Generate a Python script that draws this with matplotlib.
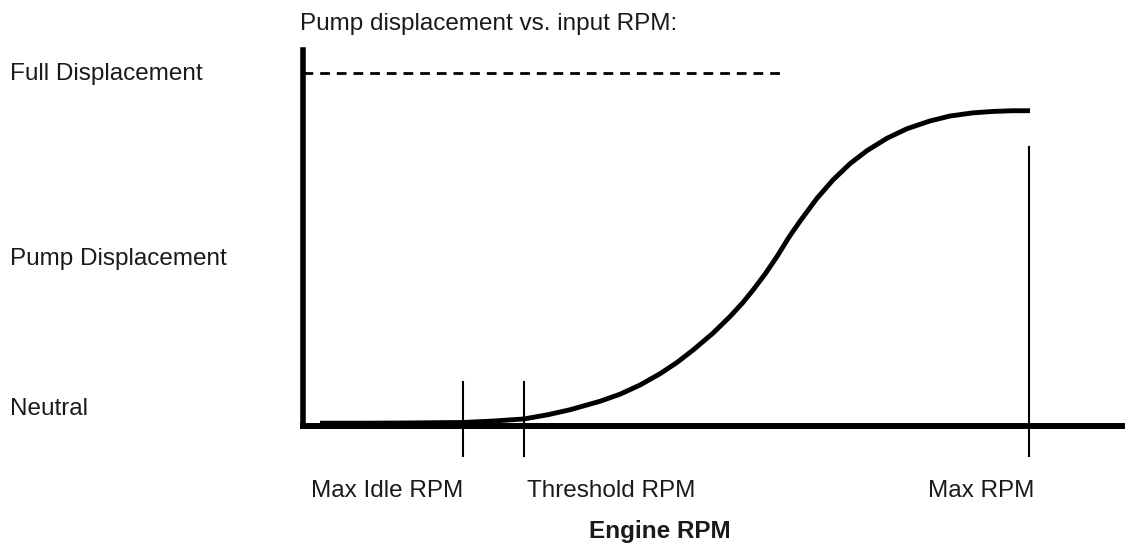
import matplotlib
matplotlib.use('Agg')
import matplotlib.pyplot as plt

# curve (x = RPM units from the axis, y = % displacement)
rpm = [17, 60, 100, 140, 160, 190, 221, 245, 267, 297, 317, 337, 357, 374,
       390, 410, 427, 440, 450, 462, 474, 486, 497, 514, 530, 547, 564, 584,
       604, 627, 647, 670, 690, 710, 727]
disp = [0.8, 0.8, 0.85, 0.95, 1.0, 1.4, 2.0, 3.2, 4.6, 7.0, 9.0, 11.6, 14.8, 18.0,
        21.5, 26.3, 31.0, 35.0, 38.5, 43.0, 48.0, 53.5, 58.0, 64.5, 69.7, 74.3, 78.0, 81.5,
        84.2, 86.4, 87.8, 88.7, 89.1, 89.3, 89.3]

max_idle_rpm = 160
threshold_rpm = 221
max_rpm = 726
full_disp = 100
full_line_end = 480

W, H = 1125, 543
fig = plt.figure(figsize=(W / 100, H / 100), dpi=100)
plt.rcParams['font.family'] = ['Liberation Sans', 'DejaVu Sans']

# axes: left spine at px 303, bottom spine at px 426, top at px 50
ax = fig.add_axes([303 / W, (H - 426) / H, (W - 303) / W, (426 - 50) / H])
ax.set_xlim(0, W - 303)
ax.set_ylim(0, 106.5)
for s in ['top', 'right']:
    ax.spines[s].set_visible(False)
ax.spines['left'].set_linewidth(4)
ax.spines['bottom'].set_linewidth(4.3)
ax.set_xticks([])
ax.set_yticks([])
ax.patch.set_alpha(0)

ax.plot(rpm, disp, color='black', lw=3.5, solid_capstyle='butt',
        solid_joinstyle='round', clip_on=False)
ax.plot([0, full_line_end], [full_disp, full_disp], color='black', lw=2,
        dashes=(3.5, 2.5), clip_on=False)

for x in [max_idle_rpm, threshold_rpm]:
    ax.plot([x, x], [-8.5, 12.5], color='black', lw=1.5, clip_on=False)
ax.plot([max_rpm, max_rpm], [-8.5, 79], color='black', lw=1.5, clip_on=False)

tc = '#1a1a1a'
fs = 17.5


def ftext(px, py, s, **kw):
    kw.setdefault('fontsize', fs)
    kw.setdefault('color', tc)
    fig.text(px / W, 1 - py / H, s, va='baseline', **kw)


ftext(300, 30, 'Pump displacement vs. input RPM:')
ftext(10, 80, 'Full Displacement')
ftext(10, 265, 'Pump Displacement')
ftext(10, 415, 'Neutral')
ftext(463, 497, 'Max Idle RPM', ha='right')
ftext(527, 497, 'Threshold RPM')
ftext(981, 497, 'Max RPM', ha='center')
ftext(660, 538, 'Engine RPM', ha='center', fontweight='bold')

fig.savefig('out.png', dpi=100)
